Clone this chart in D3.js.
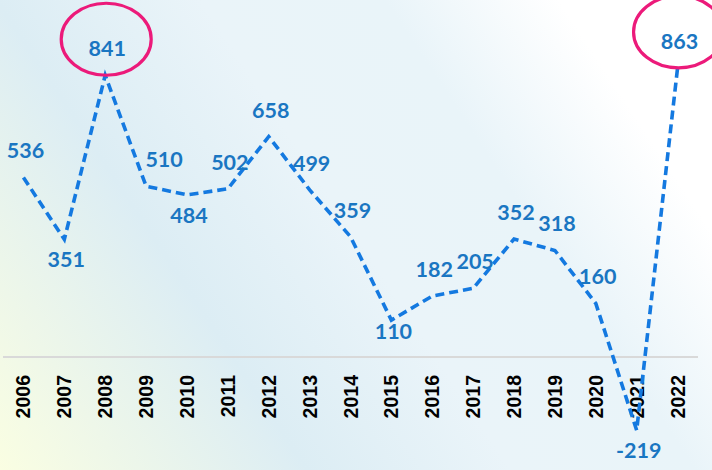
<!DOCTYPE html>
<html><head><meta charset="utf-8">
<script src="https://cdn.jsdelivr.net/npm/d3@7"></script>
<style>html,body{margin:0;padding:0;overflow:hidden;background:#fff}</style>
</head><body>
<svg id="chart" width="712" height="470"></svg>
<script>
const years = ["2006","2007","2008","2009","2010","2011","2012","2013","2014","2015","2016","2017","2018","2019","2020","2021","2022"];
const values = [536,351,841,510,484,502,658,499,359,110,182,205,352,318,160,-219,863];
const highlighted = ["2008","2022"];
// label placement: a = above, b = below, c = close below, r = above-right
const labelPlace = ["a","b","a","r","b","a","a","a","a","c","a","a","a","a","a","b","a"];

const W = 712, H = 470;
const svg = d3.select("#chart");
const defs = svg.append("defs");
const g = defs.append("linearGradient").attr("id","bg").attr("gradientUnits","userSpaceOnUse")
  .attr("x1",0).attr("y1",H).attr("x2",W).attr("y2",0);
[[0,"#fafee2"],[0.12,"#eef7e9"],[0.3,"#dcedf4"],[0.5,"#eaf4f9"],[0.68,"#e9f4f9"],[0.85,"#ffffff"],[1,"#ffffff"]]
  .forEach(([o,c]) => g.append("stop").attr("offset",o).attr("stop-color",c));
svg.append("rect").attr("width",W).attr("height",H).attr("fill","url(#bg)");

const x = d3.scaleBand().domain(years).range([3,698]);
const cx = d => x(d) + x.bandwidth()/2;
const y = d3.scaleLinear().domain([-300,900]).range([457.5,55.5]);

// baseline
svg.append("line").attr("x1",3).attr("x2",698).attr("y1",y(0)).attr("y2",y(0))
  .attr("stroke","#d9d9d9").attr("stroke-width",2);

// x axis labels
const xAxis = d3.axisBottom(x).tickSize(0).tickPadding(0);
const ax = svg.append("g").attr("transform",`translate(0,${y(0)})`).call(xAxis);
ax.select(".domain").remove();
ax.selectAll("text")
  .attr("transform","rotate(-90)")
  .attr("x",-18).attr("y",0).attr("dy","0.36em")
  .attr("text-anchor","end")
  .style("font-family","'Liberation Sans', Arial, sans-serif")
  .style("font-weight","bold").style("font-size","19.5px").style("fill","#000");

const data = years.map((yr,i)=>({yr, v: values[i], p: labelPlace[i]}));

// line
svg.append("path").datum(data)
  .attr("d", d3.line().x(d=>cx(d.yr)).y(d=>y(d.v)))
  .attr("fill","none").attr("stroke","#1479e0").attr("stroke-width",3.6)
  .attr("stroke-dasharray","9,5");

// labels
const dyOf = {a:-19, b:28, c:19, r:-19};
svg.selectAll(".lbl").data(data).enter().append("text")
  .attr("x", d => cx(d.yr) + (d.p==="r" ? 18 : 2))
  .attr("y", d => y(d.v) + dyOf[d.p])
  .attr("text-anchor","middle")
  .style("font-family","Lato, 'Open Sans', sans-serif")
  .style("font-weight","bold").style("font-size","21.5px").style("fill","#1a76c2")
  .text(d => d.v);

// highlight ellipses
svg.selectAll(".hl").data(data.filter(d => highlighted.includes(d.yr))).enter().append("ellipse")
  .attr("cx", d => cx(d.yr) + 1)
  .attr("cy", d => y(d.v) - 36)
  .attr("rx", 45).attr("ry", 36)
  .attr("fill","none").attr("stroke","#ec1a7a").attr("stroke-width",3.2);
</script>
</body></html>
